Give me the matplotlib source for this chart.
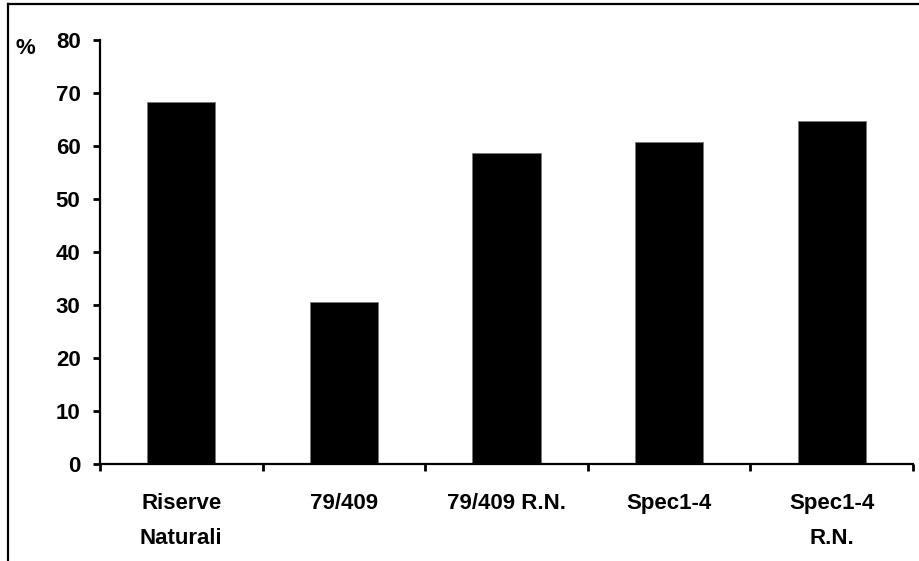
import matplotlib.pyplot as plt
from matplotlib.lines import Line2D

cats = ["Riserve\nNaturali", "79/409", "79/409 R.N.", "Spec1-4", "Spec1-4\nR.N."]
vals = [68.3, 30.6, 58.7, 60.9, 64.8]
yticks = [0, 10, 20, 30, 40, 50, 60, 70, 80]

plt.rcParams['font.family'] = ['Liberation Sans', 'DejaVu Sans']
plt.rcParams['font.weight'] = 'bold'
fs = 16

fig = plt.figure(figsize=(9.19, 5.61), dpi=100)
ax = fig.add_axes([100/919, 1-464.3/561, 813/919, 424/561])
x = range(len(cats))
ax.bar(x, vals, width=0.42, color='black', edgecolor='#777777', linewidth=0.6)

ax.set_xlim(-0.5, len(cats)-0.5)
ax.set_ylim(0, 80)
ax.set_yticks(yticks)
ax.set_yticklabels([str(t) for t in yticks], fontsize=fs, fontweight='bold')
ax.set_xticks([i-0.5 for i in range(len(cats)+1)])
ax.set_xticklabels([])
ax.set_xticks(list(x), minor=True)
ax.set_xticklabels(cats, minor=True, fontsize=fs, fontweight='bold', linespacing=1.85)
ax.tick_params(axis='x', which='minor', length=0, pad=21)
ax.tick_params(axis='x', which='major', length=5, width=2, direction='out')
ax.tick_params(axis='y', length=5, width=2, direction='out', pad=9)
for s in ('top', 'right'):
    ax.spines[s].set_visible(False)
for s in ('left', 'bottom'):
    ax.spines[s].set_linewidth(1.6)

fig.text(16/919, 1-48/561, "%", fontsize=fs, fontweight='bold', va='center', ha='left')

# frame of the original page (top and left edges only)
fig.add_artist(Line2D([7.5/919, 1], [1-4/561, 1-4/561], transform=fig.transFigure, color='black', lw=1.6))
fig.add_artist(Line2D([7.5/919, 7.5/919], [0, 1-4/561], transform=fig.transFigure, color='black', lw=1.6))

fig.savefig("out.png", dpi=100)
